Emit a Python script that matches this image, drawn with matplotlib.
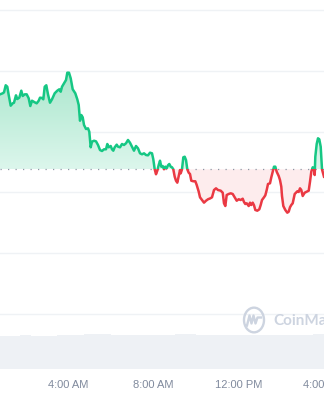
import numpy as np
import matplotlib
matplotlib.use('Agg')
import matplotlib.pyplot as plt
from matplotlib.colors import LinearSegmentedColormap
from matplotlib.patches import Rectangle, Circle
from matplotlib.path import Path
from matplotlib.lines import Line2D

# price (hours since midnight, price)
hours = [0.807, 0.934, 0.995, 1.075, 1.150, 1.215, 1.309, 1.403, 1.464, 1.558,
         1.619, 1.713, 1.807, 1.873, 1.967, 2.060, 2.154, 2.230, 2.309, 2.436,
         2.530, 2.624, 2.685, 2.779, 2.840, 2.906, 2.981, 3.060, 3.154, 3.248,
         3.375, 3.497, 3.591, 3.657, 3.718, 3.812, 3.906, 3.967, 4.046, 4.126,
         4.220, 4.342, 4.436, 4.502, 4.563, 4.624, 4.690, 4.751, 4.845, 4.938,
         4.999, 5.065, 5.126, 5.220, 5.314, 5.408, 5.502, 5.596, 5.690, 5.784,
         5.845, 5.910, 6.004, 6.065, 6.126, 6.192, 6.286, 6.347, 6.441, 6.535,
         6.629, 6.722, 6.816, 6.910, 7.004, 7.098, 7.192, 7.286, 7.380, 7.474,
         7.568, 7.661, 7.755, 7.849, 7.943, 8.004, 8.070, 8.131, 8.192, 8.258,
         8.319, 8.380, 8.446, 8.506, 8.568, 8.633, 8.694, 8.755, 8.821, 8.882,
         8.943, 9.009, 9.070, 9.131, 9.197, 9.258, 9.291, 9.352, 9.413, 9.478,
         9.539, 9.600, 9.666, 9.727, 9.788, 9.882, 9.976, 10.042, 10.136, 10.197,
         10.291, 10.385, 10.478, 10.572, 10.666, 10.760, 10.854, 10.948, 11.042, 11.169,
         11.263, 11.323, 11.385, 11.450, 11.544, 11.638, 11.732, 11.826, 11.920, 12.013,
         12.107, 12.201, 12.262, 12.323, 12.389, 12.483, 12.544, 12.605, 12.671, 12.732,
         12.793, 12.887, 12.981, 13.046, 13.108, 13.201, 13.263, 13.328, 13.389, 13.483,
         13.544, 13.610, 13.671, 13.732, 13.797, 13.891, 13.952, 14.013, 14.046, 14.108,
         14.201, 14.295, 14.361, 14.422, 14.483, 14.549, 14.643, 14.704, 14.765, 14.830,
         14.891, 14.952, 15.018, 15.112, 15.206, 15.300, 15.361, 15.422, 15.488, 15.549,
         15.581, 15.610, 15.675, 15.736, 15.797, 15.863, 15.924, 16.018]
price = [13.613, 13.630, 13.646, 13.762, 13.738, 13.602, 13.426, 13.465, 13.475, 13.597,
         13.536, 13.558, 13.673, 13.586, 13.613, 13.613, 13.548, 13.421, 13.508, 13.482,
         13.465, 13.508, 13.558, 13.553, 13.531, 13.738, 13.762, 13.613, 13.475, 13.531,
         13.630, 13.673, 13.696, 13.656, 13.738, 13.794, 13.849, 13.969, 13.969, 13.877,
         13.696, 13.630, 13.531, 13.438, 13.179, 13.273, 13.235, 13.109, 13.043, 13.054,
         12.998, 12.742, 12.834, 12.850, 12.840, 12.780, 12.697, 12.681, 12.709, 12.709,
         12.796, 12.742, 12.763, 12.709, 12.686, 12.742, 12.785, 12.752, 12.742, 12.796,
         12.780, 12.808, 12.862, 12.817, 12.752, 12.686, 12.763, 12.725, 12.643, 12.627,
         12.643, 12.615, 12.610, 12.653, 12.643, 12.544, 12.380, 12.298, 12.357, 12.451,
         12.521, 12.423, 12.434, 12.380, 12.423, 12.396, 12.446, 12.467, 12.423, 12.413,
         12.380, 12.258, 12.192, 12.160, 12.270, 12.368, 12.314, 12.380, 12.577, 12.587,
         12.533, 12.380, 12.324, 12.303, 12.192, 12.183, 12.183, 12.122, 12.012, 11.919,
         11.875, 11.831, 11.863, 11.887, 11.900, 11.919, 12.039, 12.067, 12.039, 12.028,
         11.995, 11.821, 11.776, 11.957, 11.974, 11.985, 11.974, 11.919, 11.863, 11.887,
         11.875, 11.896, 11.842, 11.809, 11.821, 11.776, 11.831, 11.793, 11.831, 11.788,
         11.711, 11.699, 11.722, 11.793, 11.875, 11.919, 11.952, 12.039, 12.138, 12.150,
         12.248, 12.340, 12.423, 12.423, 12.340, 12.270, 12.204, 12.094, 11.941, 11.776,
         11.711, 11.666, 11.683, 11.755, 11.793, 11.821, 11.974, 11.995, 12.018, 12.007,
         12.067, 12.039, 11.941, 11.995, 12.012, 12.028, 12.176, 12.340, 12.413, 12.380,
         12.286, 12.587, 12.796, 12.890, 12.873, 12.752, 12.380, 12.258]
open_price = 12.38
grid_levels = [10, 11, 12, 13, 14, 15]

# volume, 15 minute buckets starting 0:45
vol_start = 0.75
volume = [33.0, 33.2, 33.0, 33.1, 34.0, 34.1, 33.2, 33.0, 33.1, 33.0,
          33.2, 34.4, 34.5, 34.3, 34.4, 34.5, 35.0, 35.1, 35.0, 34.9,
          35.0, 34.0, 34.1, 34.0, 33.9, 34.0, 34.1, 34.0, 34.0, 33.9,
          34.0, 34.1, 34.0, 35.0, 35.1, 35.0, 34.9, 34.0, 34.1, 34.0,
          34.0, 33.9, 34.1, 34.0, 34.2, 34.0, 34.0, 34.1, 33.9, 34.0,
          34.0, 34.1, 34.0, 33.9, 34.0, 34.1, 34.0, 34.4, 34.5, 35.3,
          35.2, 35.4]

tick_hours = [4, 8, 12, 16]
tick_labels = ['4:00 AM', '8:00 AM', '12:00 PM', '4:00 PM']

green = '#16c784'
red = '#ea3943'
t = np.array(hours)
p = np.array(price)
x0, x1 = 0.807, 16.018

fig = plt.figure(figsize=(3.24, 4.0), dpi=100)
fig.patch.set_facecolor('white')

# volume panel
axv = fig.add_axes([0, 31 / 400, 1, 69 / 400])
vt = vol_start + 0.25 * np.arange(len(volume))
axv.bar(vt, volume, width=0.25, align='edge', color='#eef1f5', edgecolor='none')
axv.set_xlim(x0, x1)
axv.set_ylim(0, 69)
for s in axv.spines.values():
    s.set_visible(False)
axv.set_yticks([])
axv.set_xticks(tick_hours)
axv.set_xticklabels(tick_labels, fontsize=8, color='#808a9d', family='Liberation Sans')
axv.tick_params(axis='x', length=0, pad=8)
axv.patch.set_alpha(0)

# price panel
ax = fig.add_axes([0, 84 / 400, 1, 308 / 400])
ax.patch.set_alpha(0)
ax.set_xlim(x0, x1)
ax.set_ylim(9.967, 15.033)
ax.axis('off')
for g in grid_levels:
    ax.axhline(g, color='#eff2f5', lw=1, zorder=0)

# green gradient fill above open
up = ax.fill_between(t, p, open_price, where=p >= open_price, interpolate=True,
                     facecolor='none', edgecolor='none')
cmap_g = LinearSegmentedColormap.from_list('g', ['#dcf6ec', '#abe7cd'])
grad = np.linspace(0, 1, 256).reshape(-1, 1)
im = ax.imshow(grad, cmap=cmap_g, aspect='auto', origin='lower',
               extent=[x0, x1, open_price, 13.97], zorder=1)
im.set_clip_path(Path.make_compound_path(*up.get_paths()), ax.transData)
ax.set_xlim(x0, x1)
ax.set_ylim(9.967, 15.033)

# red fill below open
ax.fill_between(t, p, open_price, where=p <= open_price, interpolate=True,
                facecolor='#fdeced', edgecolor='none', zorder=1)

ax.axhline(open_price, color='#8f98a6', lw=0.9, ls=(0, (1, 5)), zorder=2)

lg, = ax.plot(t, p, color=green, lw=1.8, zorder=3, solid_joinstyle='round')
lg.set_clip_path(Rectangle((x0 - 1, open_price), 20, 10, transform=ax.transData))
lr, = ax.plot(t, p, color=red, lw=1.8, zorder=3, solid_joinstyle='round')
lr.set_clip_path(Rectangle((x0 - 1, open_price - 10), 20, 10, transform=ax.transData))

# watermark
wm = '#cdd4e0'
def fx(x):
    return x / 324
def fy(y):
    return 1 - y / 400
fig.add_artist(Circle((fx(254), fy(320)), 10 / 324, transform=fig.transFigure,
                      fill=False, ec=wm, lw=1.7))
mx = [247.0, 249.5, 251.5, 253.5, 255.5, 257.5, 261.0]
my = [325.5, 315.5, 323.5, 315.5, 323.5, 317.5, 317.5]
fig.add_artist(Line2D([fx(v) for v in mx], [fy(v) for v in my], transform=fig.transFigure,
                      color=wm, lw=1.7, solid_joinstyle='round'))
fig.text(fx(273), fy(321), 'CoinMarketCap', fontsize=11, color=wm, weight='bold',
         family='Lato', va='center', ha='left')

fig.savefig('out.png', dpi=100)
